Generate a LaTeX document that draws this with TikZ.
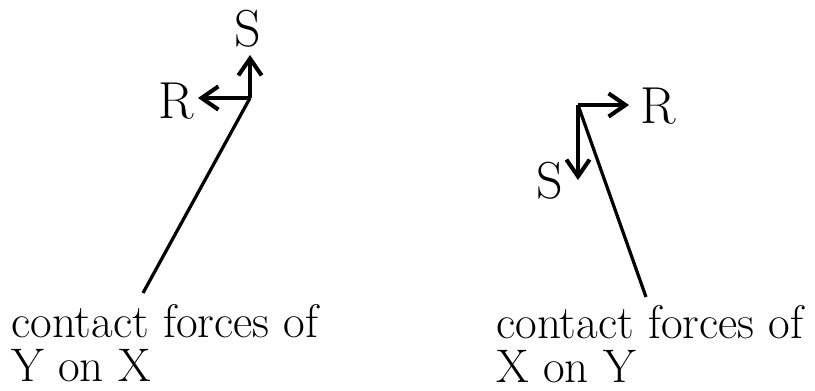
\documentclass[tikz,border=0pt]{standalone}
\usepackage{tikz}
\usetikzlibrary{arrows.meta}

\begin{document}
\begin{tikzpicture}[x=0.025cm, y=-0.025cm,
    force/.style={line width=2.9pt, -{Straight Barb[length=4.2mm, width=5.8mm, line width=2.9pt]}},
    body/.style={line width=2.3pt},
    lbl/.style={inner sep=0pt, font=\fontsize{37}{39}\selectfont},
    caption/.style={inner sep=0pt, align=left, font=\fontsize{33.5}{31.3}\selectfont}]
  \useasboundingbox (0,0) rectangle (815,390);

  % contact forces of Y on X
  \coordinate (jx) at (250,98);
  \coordinate (endx) at (143,293);
  \coordinate (rtipx) at (198,98);
  \coordinate (stipx) at (250,55);
  \draw[body] (jx) -- (endx);
  \draw[force] (jx) -- (rtipx);
  \draw[force] (jx) -- (stipx);
  \node[lbl] (rx) at (176,101) {R};
  \node[lbl] (sx) at (248,29) {S};
  \node[caption, anchor=north west] (capx) at (11,304) {contact forces of\\Y on X};

  % contact forces of X on Y
  \coordinate (jy) at (578,105);
  \coordinate (endy) at (646,297);
  \coordinate (rtipy) at (629,105);
  \coordinate (stipy) at (578,180);
  \draw[body] (jy) -- (endy);
  \draw[force] (jy) -- (rtipy);
  \draw[force] (jy) -- (stipy);
  \node[lbl] (ry) at (658,106) {R};
  \node[lbl] (sy) at (550,181) {S};
  \node[caption, anchor=north west] (capy) at (496,305) {contact forces of\\X on Y};
\end{tikzpicture}
\end{document}
